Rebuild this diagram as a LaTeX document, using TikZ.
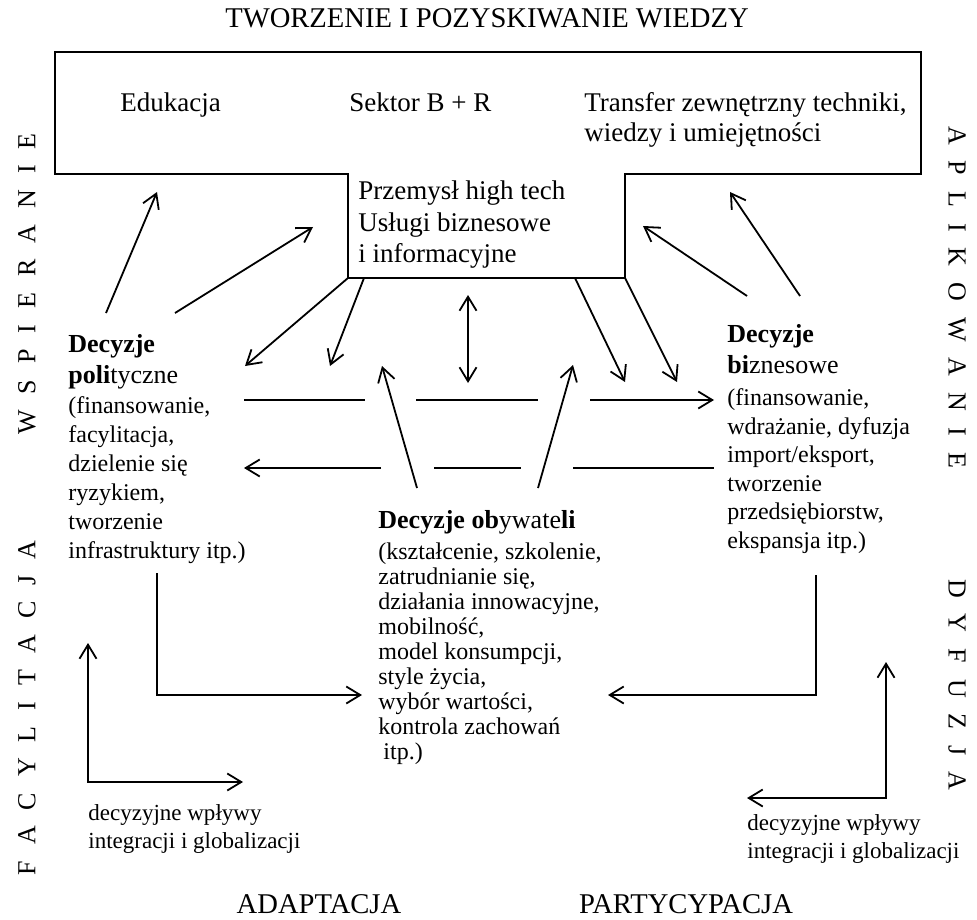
\documentclass[tikz,border=0pt]{standalone}
\usepackage{fontspec}
\setmainfont{Liberation Serif}
\usetikzlibrary{arrows.meta}
\newcommand\LS{\hspace{8pt}}
\tikzset{
  lw/.style={line width=0.9pt},
  tip/.tip={Straight Barb[length=7pt,width=8.5pt,line width=0.9pt]},
  conn/.style={lw,-tip},
  dconn/.style={lw,tip-tip},
  plain/.style={lw},
  txt/.style={inner sep=0pt, anchor=base west, align=left},
  boxtxt/.style={txt, font=\fontsize{13.5pt}{15.75pt}\selectfont},
  headtxt/.style={txt, font=\fontsize{13pt}{15.5pt}\selectfont},
  bodytxt/.style={txt, font=\fontsize{12pt}{14.5pt}\selectfont},
  smalltxt/.style={txt, font=\fontsize{11.5pt}{14pt}\selectfont},
  capstxt/.style={inner sep=0pt, anchor=base, font=\fontsize{14.3pt}{16pt}\selectfont},
  sidetxt/.style={inner sep=0pt, anchor=center, font=\fontsize{13pt}{15pt}\selectfont},
}
\begin{document}
\begin{tikzpicture}[x=0.5pt,y=-0.5pt]
\fill[white] (0,0) rectangle (977,919);
\useasboundingbox (0,0) rectangle (977,919);

% T-shaped box
\coordinate (b1) at (55,52);
\coordinate (b2) at (921,52);
\coordinate (b3) at (921,174);
\coordinate (b4) at (625,174);
\coordinate (b5) at (625,278);
\coordinate (b6) at (348,278);
\coordinate (b7) at (348,174);
\coordinate (b8) at (55,174);
\draw[plain] (b1) -- (b2) -- (b3) -- (b4) -- (b5) -- (b6) -- (b7) -- (b8) -- cycle;

% titles
\node[capstxt] (title) at (487,28) {TWORZENIE I POZYSKIWANIE WIEDZY};
\node[capstxt] (adapt) at (319,913) {ADAPTACJA};
\node[capstxt] (party) at (686,913) {PARTYCYPACJA};

% side letters
\node[sidetxt, rotate=90] (wsp) at (27,284) {W\LS S\LS P\LS I\LS E\LS R\LS A\LS N\LS I\LS E};
\node[sidetxt, rotate=90] (fac) at (27,708) {F\LS A\LS C\LS Y\LS L\LS I\LS T\LS A\LS C\LS J\LS A};
\node[sidetxt, rotate=-90] (apl) at (957,297) {A\LS P\LS L\LS I\LS K\LS O\LS W\LS A\LS N\LS I\LS E};
\node[sidetxt, rotate=-90] (dyf) at (957,685) {D\LS Y\LS F\LS U\LS Z\LS J\LS A};

% box texts (base anchor = baseline of the last line)
\node[boxtxt] (edu) at (120,112) {Edukacja};
\node[boxtxt] (br) at (349,112) {Sektor B + R};
\node[boxtxt, font=\fontsize{13.5pt}{15pt}\selectfont] (transfer) at (584,142) {Transfer zewnętrzny techniki,\\wiedzy i umiejętności};
\node[boxtxt] (prz) at (358,263) {Przemysł high tech\\Usługi biznesowe\\i informacyjne};

% decisions
\node[headtxt] (polh) at (68,383) {\textbf{Decyzje}\\\textbf{poli}tyczne};
\node[bodytxt] (polb) at (68,558) {(finansowanie,\\facylitacja,\\dzielenie się\\ryzykiem,\\tworzenie\\infrastruktury itp.)};

\node[headtxt] (bizh) at (727,373) {\textbf{Decyzje}\\\textbf{bi}znesowe};
\node[bodytxt, font=\fontsize{12pt}{14.25pt}\selectfont] (bizb) at (727,548) {(finansowanie,\\wdrażanie, dyfuzja\\import/eksport,\\tworzenie\\przedsiębiorstw,\\ekspansja itp.)};

\node[headtxt] (obyh) at (378,528) {\textbf{Decyzje ob}ywate\textbf{li}};
\node[bodytxt, font=\fontsize{12pt}{12.45pt}\selectfont] (obyb) at (378,759) {(kształcenie, szkolenie,\\zatrudnianie się,\\działania innowacyjne,\\mobilność,\\model konsumpcji,\\style życia,\\wybór wartości,\\kontrola zachowań\\\hspace{2.5pt}itp.)};

\node[smalltxt] (infl) at (88,848) {decyzyjne wpływy\\integracji i globalizacji};
\node[smalltxt] (infr) at (747,858) {decyzyjne wpływy\\integracji i globalizacji};

% upward arrows to the box
\coordinate (a1s) at (106,313); \coordinate (a1e) at (157,192);
\coordinate (a2s) at (175,313); \coordinate (a2e) at (313,227);
\coordinate (a3s) at (747,296); \coordinate (a3e) at (643,226);
\coordinate (a4s) at (800,296); \coordinate (a4e) at (730,192);
\draw[conn] (a1s) -- (a1e);
\draw[conn] (a2s) -- (a2e);
\draw[conn] (a3s) -- (a3e);
\draw[conn] (a4s) -- (a4e);

% arrows from the stem
\coordinate (d1e) at (245,366);
\coordinate (d2s) at (364,278); \coordinate (d2e) at (330,366);
\coordinate (v1s) at (468,295); \coordinate (v1e) at (468,383);
\coordinate (d3s) at (575,278); \coordinate (d3e) at (625,382);
\coordinate (d4e) at (677,382);
\draw[conn] (b6) -- (d1e);
\draw[conn] (d2s) -- (d2e);
\draw[dconn] (v1s) -- (v1e);
\draw[conn] (d3s) -- (d3e);
\draw[conn] (b5) -- (d4e);

% arrows from citizens
\coordinate (u1s) at (417,488); \coordinate (u1e) at (382,366);
\coordinate (u2s) at (538,488); \coordinate (u2e) at (573,365);
\draw[conn] (u1s) -- (u1e);
\draw[conn] (u2s) -- (u2e);

% broken horizontal arrows
\coordinate (h1) at (244,400); \coordinate (h2) at (365,400);
\coordinate (h3) at (416,400); \coordinate (h4) at (538,400);
\coordinate (h5) at (590,400); \coordinate (h6) at (714,400);
\draw[plain] (h1) -- (h2);
\draw[plain] (h3) -- (h4);
\draw[conn] (h5) -- (h6);
\coordinate (g1) at (244,468); \coordinate (g2) at (381,468);
\coordinate (g3) at (434,468); \coordinate (g4) at (521,468);
\coordinate (g5) at (573,468); \coordinate (g6) at (714,468);
\draw[conn] (g2) -- (g1);
\draw[plain] (g3) -- (g4);
\draw[plain] (g5) -- (g6);

% bent arrows to citizens
\coordinate (l1s) at (157,573); \coordinate (l1e) at (362,695);
\draw[conn] (l1s) |- (l1e);
\coordinate (r1s) at (816,575); \coordinate (r1e) at (608,695);
\draw[conn] (r1s) |- (r1e);

% integration/globalization influences
\coordinate (l2s) at (88,643); \coordinate (l2e) at (243,782);
\draw[dconn] (l2s) |- (l2e);
\coordinate (r2s) at (886,662); \coordinate (r2e) at (747,798);
\draw[dconn] (r2s) |- (r2e);
\end{tikzpicture}
\end{document}
